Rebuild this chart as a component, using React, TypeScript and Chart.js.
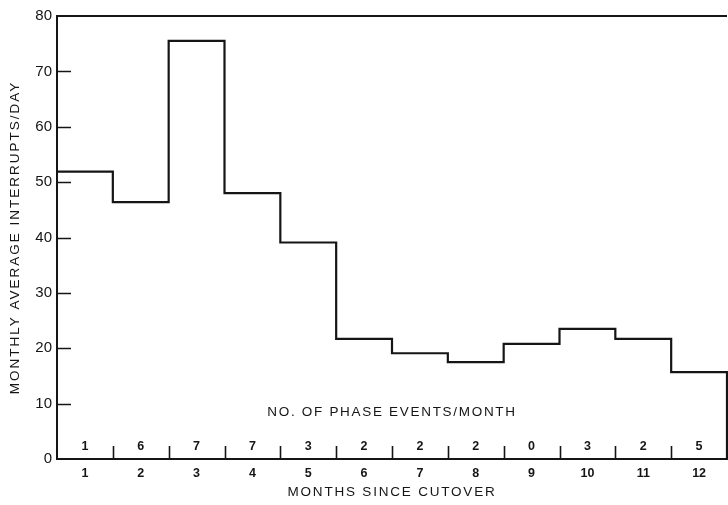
import React, { useEffect, useRef } from "react";
import { Chart, registerables } from "chart.js";

Chart.register(...registerables);

// ---- Data ----
const MONTHS = [1, 2, 3, 4, 5, 6, 7, 8, 9, 10, 11, 12];
const INTERRUPTS_PER_DAY = [51.9, 46.4, 75.5, 48.0, 39.1, 21.7, 19.1, 17.5, 20.8, 23.5, 21.7, 15.7];
const PHASE_EVENTS = [1, 6, 7, 7, 3, 2, 2, 2, 0, 3, 2, 5];
const Y_TICKS = [0, 10, 20, 30, 40, 50, 60, 70, 80];
const Y_TITLE = "MONTHLY AVERAGE INTERRUPTS/DAY";
const X_TITLE = "MONTHS SINCE CUTOVER";
const ROW_TITLE = "NO. OF PHASE EVENTS/MONTH";

const FONT = "'Liberation Sans', Arial, Helvetica, sans-serif";
const INK = "#151515";

const overlayPlugin = {
  id: "overlay",
  afterDraw(chart: any) {
    const { ctx, chartArea } = chart;
    const xs = chart.scales.x;
    const ys = chart.scales.y;
    const { left, right, top, bottom } = chartArea;
    ctx.save();
    ctx.strokeStyle = INK;
    ctx.lineWidth = 2;

    // top frame line
    ctx.beginPath();
    ctx.moveTo(left, ys.getPixelForValue(80));
    ctx.lineTo(right, ys.getPixelForValue(80));
    ctx.stroke();

    // inward y tick marks
    Y_TICKS.filter((v) => v > 0 && v < 80).forEach((v) => {
      const y = Math.round(ys.getPixelForValue(v)) + 0.5;
      ctx.lineWidth = 1.5;
      ctx.beginPath();
      ctx.moveTo(left, y);
      ctx.lineTo(left + 14, y);
      ctx.stroke();
    });

    // month boundary marks pointing up
    ctx.lineWidth = 1.6;
    MONTHS.slice(0, -1).forEach((m) => {
      const x = Math.round(xs.getPixelForValue(m + 0.5)) + 0.5;
      ctx.beginPath();
      ctx.moveTo(x, bottom);
      ctx.lineTo(x, bottom - 13);
      ctx.stroke();
    });

    // phase event counts
    ctx.fillStyle = INK;
    ctx.textAlign = "center";
    ctx.textBaseline = "middle";
    ctx.font = `bold 12.5px ${FONT}`;
    MONTHS.forEach((m, i) => {
      ctx.fillText(String(PHASE_EVENTS[i]), xs.getPixelForValue(m), bottom - 12);
    });

    const cx = (left + right) / 2;
    ctx.font = `13.5px ${FONT}`;

    // row title
    (ctx as any).letterSpacing = "1.7px";
    ctx.fillText(ROW_TITLE, cx, bottom - 47);

    // x axis title
    (ctx as any).letterSpacing = "1.8px";
    ctx.fillText(X_TITLE, cx, bottom + 33);

    // y axis title
    (ctx as any).letterSpacing = "2px";
    ctx.translate(15, (top + bottom) / 2);
    ctx.rotate(-Math.PI / 2);
    ctx.fillText(Y_TITLE, 0, 0);
    ctx.restore();
  },
};

export default function App() {
  const ref = useRef<HTMLCanvasElement>(null);

  useEffect(() => {
    if (!ref.current) return;
    const points: { x: number; y: number }[] = MONTHS.map((m, i) => ({
      x: m - 0.5,
      y: INTERRUPTS_PER_DAY[i],
    }));
    points.push({ x: MONTHS[MONTHS.length - 1] + 0.5, y: 0 });

    const chart = new Chart(ref.current, {
      type: "line",
      data: {
        datasets: [
          {
            data: points,
            stepped: true,
            borderColor: INK,
            borderWidth: 2.2,
            pointRadius: 0,
            fill: false,
            clip: false as any,
          },
        ],
      },
      options: {
        animation: false,
        responsive: false,
        events: [],
        layout: { padding: { top: 16, right: 1, left: 0, bottom: 0 } },
        plugins: {
          legend: { display: false },
          tooltip: { enabled: false },
        },
        scales: {
          x: {
            type: "linear",
            min: MONTHS[0] - 0.5,
            max: MONTHS[MONTHS.length - 1] + 0.5,
            afterFit: (s: any) => {
              s.height = 46;
            },
            afterBuildTicks: (s: any) => {
              s.ticks = MONTHS.map((m) => ({ value: m }));
            },
            grid: { display: true, drawOnChartArea: false, drawTicks: false },
            border: { display: true, color: INK, width: 2 },
            ticks: {
              autoSkip: false,
              maxRotation: 0,
              padding: 7,
              color: INK,
              font: { family: FONT, size: 12.5, weight: "bold" },
              callback: (v: any) => String(v),
            },
          },
          y: {
            type: "linear",
            min: Y_TICKS[0],
            max: Y_TICKS[Y_TICKS.length - 1],
            afterFit: (s: any) => {
              s.width = 57;
            },
            afterBuildTicks: (s: any) => {
              s.ticks = Y_TICKS.map((v) => ({ value: v }));
            },
            grid: { display: true, drawOnChartArea: false, drawTicks: false },
            border: { display: true, color: INK, width: 2 },
            ticks: {
              padding: 5,
              color: INK,
              font: { family: FONT, size: 15 },
            },
          },
        },
      },
      plugins: [overlayPlugin],
    });
    return () => chart.destroy();
  }, []);

  return (
    <div style={{ position: "absolute", left: 0, top: 0, width: 728, height: 505, background: "#fff" }}>
      <canvas ref={ref} width={728} height={505} style={{ display: "block" }} />
    </div>
  );
}
